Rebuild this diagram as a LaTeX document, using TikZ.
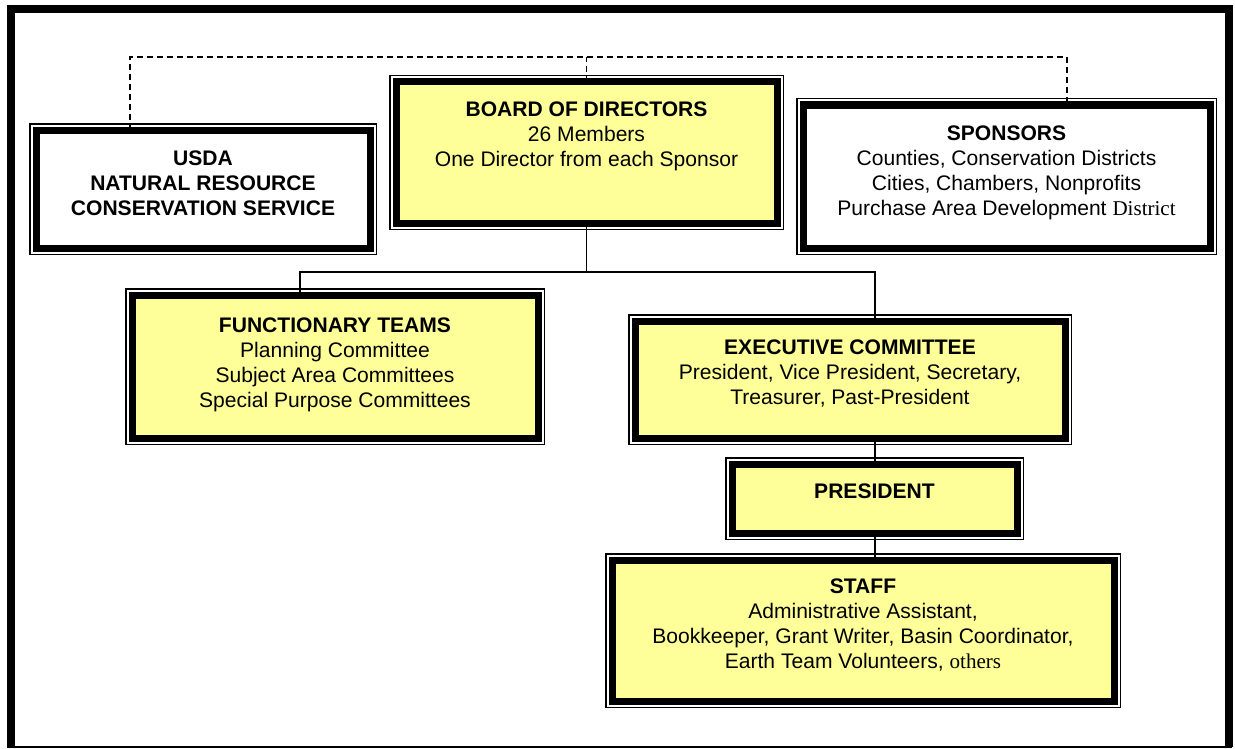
\documentclass[tikz,border=0pt]{standalone}
\usepackage{fontspec}
\setmainfont{Liberation Sans}
\newfontfamily\timesfont{Liberation Serif}
\usetikzlibrary{positioning}

\definecolor{paleyellow}{RGB}{255,255,153}

\tikzset{
  orgbox/.style={draw=black, line width=5.25pt, inner sep=0pt, outer sep=0pt,
    preaction={draw=black, line width=10.5pt},
    preaction={draw=white, line width=8.25pt}},
  yellowbox/.style={orgbox, fill=paleyellow},
  whitebox/.style={orgbox, fill=white},
  boxtext/.style={align=center, inner sep=0pt, font=\fontsize{15.8pt}{18.75pt}\selectfont},
  link/.style={line width=1.1pt},
  dashlink/.style={line width=1.1pt, dash pattern=on 4.5pt off 3pt}
}

\begin{document}
\begin{tikzpicture}[x=0.75pt, y=-0.75pt]
\useasboundingbox (0,0) rectangle (1235,749);

% page frame
\draw[line width=6pt] (11,747) -- (11,9.5) -- (1228.5,9.5) -- (1228.5,747);
\draw[line width=1.1pt] (7,747) -- (1232,747);

% boxes
\node[whitebox, minimum width=250.5pt, minimum height=88.5pt] (usda) at (203,189) {};
\node[yellowbox, minimum width=285.75pt, minimum height=105.75pt] (board) at (586.5,152.5) {};
\node[whitebox, minimum width=305.25pt, minimum height=107.25pt] (sponsors) at (1006.5,176.5) {};
\node[yellowbox, minimum width=304.5pt, minimum height=107.25pt] (funct) at (335,366.5) {};
\node[yellowbox, minimum width=322.5pt, minimum height=87.75pt] (exec) at (850,379.5) {};
\node[yellowbox, minimum width=213.75pt, minimum height=51.75pt] (pres) at (874.5,498.5) {};
\node[yellowbox, minimum width=376.5pt, minimum height=105.75pt] (staff) at (863,630.5) {};

% box texts
\node[boxtext, below=15.75pt of usda.north] (usdatext)
  {\textbf{USDA}\\\textbf{NATURAL RESOURCE}\\\textbf{CONSERVATION SERVICE}};
\node[boxtext, below=15pt of board.north] (boardtext)
  {\textbf{BOARD OF DIRECTORS}\\26 Members\\One Director from each Sponsor};
\node[boxtext, below=15.75pt of sponsors.north] (sponsorstext)
  {\textbf{SPONSORS}\\Counties, Conservation Districts\\Cities, Chambers, Nonprofits\\Purchase Area Development {\timesfont District}};
\node[boxtext, below=17.25pt of funct.north] (functtext)
  {\textbf{FUNCTIONARY TEAMS}\\Planning Committee\\Subject Area Committees\\Special Purpose Committees};
\node[boxtext, below=14.25pt of exec.north] (exectext)
  {\textbf{EXECUTIVE COMMITTEE}\\President, Vice President, Secretary,\\Treasurer, Past-President};
\node[boxtext, below=15pt of pres.north] (prestext) {\textbf{PRESIDENT}};
\node[boxtext, below=14.25pt of staff.north] (stafftext)
  {\textbf{STAFF}\\Administrative Assistant,\\Bookkeeper, Grant Writer, Basin Coordinator,\\Earth Team Volunteers, {\timesfont others}};

% connectors
\coordinate (usdajoin) at (130,57);
\coordinate (sponjoin) at (1067,57);
\coordinate (functjoin) at (300,272);
\coordinate (execjoin) at (875,272);

\draw[dashlink] (board.north) -- (board.north |- usdajoin);
\draw[dashlink] (usda.north -| usdajoin) -- (usdajoin) -- (sponjoin) -- (sponjoin |- sponsors.north);
\draw[link] (board.south) -- (board.south |- functjoin);
\draw[link] (funct.north -| functjoin) -- (functjoin) -- (execjoin) -- (exec.north -| execjoin);
\draw[link] (exec.south -| execjoin) -- (pres.north -| execjoin);
\draw[link] (pres.south -| execjoin) -- (staff.north -| execjoin);
\end{tikzpicture}
\end{document}
